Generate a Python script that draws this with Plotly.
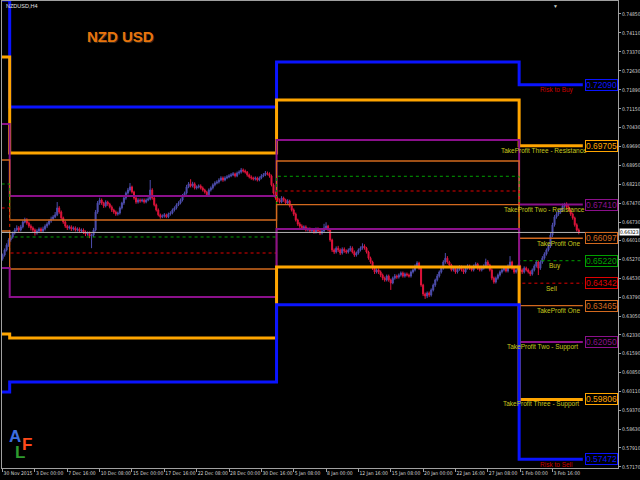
"""
NZDUSD H4 — monthly risk / take-profit levels over price candles
"""
import plotly.graph_objects as go

# H4 candles, 30 Nov 2015 08:00 onwards, prices in pips (x 1e-4)
FIRST_OPEN = 6530
CLOSE = [
    6544, 6564, 6583, 6603, 6614, 6630, 6642, 6650, 6642, 6654,
    6673, 6681, 6669, 6657, 6650, 6642, 6630, 6638, 6646, 6638,
    6646, 6657, 6665, 6677, 6685, 6693, 6701, 6728, 6712, 6689,
    6673, 6657, 6650, 6654, 6646, 6650, 6642, 6646, 6638, 6642,
    6634, 6626, 6630, 6618, 6622, 6642, 6712, 6747, 6759, 6747,
    6736, 6751, 6743, 6732, 6720, 6712, 6704, 6708, 6728, 6747,
    6767, 6786, 6798, 6810, 6790, 6767, 6751, 6759, 6755, 6759,
    6751, 6759, 6763, 6798, 6767, 6740, 6720, 6701, 6693, 6697,
    6701, 6693, 6704, 6708, 6720, 6728, 6740, 6747, 6759, 6775,
    6786, 6810, 6822, 6814, 6822, 6806, 6810, 6814, 6806, 6798,
    6790, 6779, 6798, 6806, 6818, 6825, 6829, 6837, 6845, 6837,
    6845, 6849, 6853, 6857, 6861, 6853, 6864, 6868, 6876, 6872,
    6868, 6857, 6849, 6845, 6841, 6845, 6837, 6845, 6853, 6857,
    6864, 6861, 6853, 6818, 6786, 6767, 6759, 6751, 6767, 6759,
    6747, 6755, 6736, 6720, 6704, 6681, 6665, 6657, 6650, 6654,
    6642, 6646, 6638, 6642, 6634, 6646, 6638, 6630, 6638, 6650,
    6657, 6642, 6603, 6564, 6556, 6571, 6564, 6552, 6567, 6560,
    6556, 6564, 6571, 6556, 6544, 6552, 6564, 6571, 6579, 6571,
    6556, 6532, 6517, 6493, 6478, 6486, 6478, 6466, 6454, 6447,
    6462, 6447, 6435, 6454, 6462, 6458, 6466, 6474, 6462, 6470,
    6466, 6462, 6478, 6486, 6501, 6513, 6493, 6427, 6392, 6384,
    6396, 6388, 6408, 6427, 6447, 6462, 6478, 6493, 6517, 6532,
    6517, 6505, 6486, 6493, 6478, 6489, 6497, 6486, 6478, 6493,
    6501, 6493, 6486, 6501, 6509, 6493, 6486, 6493, 6501, 6517,
    6505, 6486, 6454, 6439, 6454, 6466, 6478, 6486, 6493, 6482,
    6501, 6517, 6493, 6478, 6486, 6501, 6486, 6478, 6493, 6486,
    6478, 6470, 6486, 6501, 6517, 6493, 6517, 6532, 6548, 6564,
    6579, 6622, 6662, 6693, 6704, 6712, 6720, 6736, 6740, 6732,
    6720, 6704, 6689, 6662, 6642, 6632,
]
HIGH = [
    6550, 6570, 6590, 6610, 6622, 6636, 6650, 6660, 6657, 6662,
    6680, 6690, 6688, 6675, 6664, 6656, 6648, 6645, 6652, 6652,
    6655, 6664, 6672, 6684, 6694, 6700, 6712, 6751, 6735, 6718,
    6694, 6678, 6662, 6660, 6660, 6656, 6656, 6652, 6652, 6648,
    6648, 6640, 6636, 6636, 6628, 6650, 6720, 6755, 6768, 6765,
    6752, 6758, 6756, 6748, 6738, 6725, 6718, 6714, 6734, 6752,
    6772, 6792, 6806, 6825, 6815, 6795, 6772, 6766, 6765, 6765,
    6765, 6765, 6770, 6837, 6805, 6772, 6745, 6726, 6706, 6703,
    6708, 6706, 6710, 6715, 6726, 6734, 6746, 6754, 6765, 6782,
    6792, 6818, 6829, 6840, 6830, 6828, 6816, 6820, 6820, 6812,
    6803, 6795, 6804, 6812, 6824, 6832, 6836, 6844, 6852, 6851,
    6852, 6856, 6860, 6864, 6868, 6866, 6870, 6875, 6884, 6882,
    6878, 6872, 6862, 6855, 6850, 6851, 6850, 6851, 6860, 6864,
    6872, 6870, 6867, 6858, 6824, 6792, 6772, 6765, 6774, 6772,
    6764, 6762, 6760, 6742, 6726, 6710, 6686, 6672, 6664, 6660,
    6660, 6652, 6652, 6650, 6648, 6652, 6652, 6644, 6645, 6666,
    6672, 6662, 6648, 6608, 6570, 6578, 6580, 6570, 6574, 6574,
    6566, 6570, 6580, 6578, 6562, 6558, 6570, 6578, 6590, 6586,
    6576, 6561, 6538, 6522, 6498, 6492, 6492, 6484, 6472, 6460,
    6468, 6468, 6452, 6460, 6470, 6468, 6472, 6480, 6480, 6476,
    6476, 6472, 6484, 6492, 6508, 6520, 6518, 6498, 6432, 6398,
    6402, 6402, 6414, 6433, 6452, 6470, 6484, 6500, 6524, 6552,
    6540, 6522, 6510, 6500, 6498, 6495, 6504, 6503, 6492, 6499,
    6508, 6507, 6499, 6507, 6516, 6514, 6499, 6500, 6508, 6530,
    6524, 6510, 6492, 6460, 6460, 6472, 6484, 6492, 6500, 6499,
    6508, 6540, 6522, 6498, 6492, 6508, 6506, 6492, 6500, 6499,
    6492, 6484, 6492, 6508, 6524, 6522, 6524, 6540, 6555, 6570,
    6586, 6630, 6670, 6700, 6712, 6720, 6728, 6745, 6748, 6750,
    6740, 6725, 6710, 6694, 6668, 6648,
]
LOW = [
    6522, 6538, 6558, 6576, 6596, 6608, 6624, 6636, 6634, 6636,
    6648, 6668, 6662, 6650, 6640, 6634, 6620, 6624, 6632, 6630,
    6632, 6640, 6650, 6660, 6670, 6680, 6688, 6696, 6705, 6682,
    6666, 6650, 6642, 6644, 6638, 6640, 6636, 6636, 6630, 6632,
    6626, 6618, 6620, 6610, 6571, 6614, 6636, 6705, 6740, 6740,
    6728, 6730, 6736, 6726, 6712, 6705, 6697, 6698, 6702, 6722,
    6740, 6760, 6780, 6792, 6784, 6760, 6744, 6745, 6748, 6750,
    6745, 6746, 6754, 6758, 6760, 6734, 6714, 6695, 6686, 6688,
    6690, 6688, 6688, 6698, 6703, 6714, 6722, 6735, 6742, 6753,
    6770, 6780, 6805, 6808, 6808, 6800, 6800, 6804, 6800, 6792,
    6784, 6772, 6773, 6792, 6800, 6812, 6820, 6823, 6832, 6830,
    6832, 6840, 6844, 6848, 6852, 6847, 6848, 6858, 6862, 6866,
    6862, 6850, 6843, 6838, 6835, 6835, 6831, 6832, 6840, 6848,
    6852, 6855, 6846, 6812, 6780, 6760, 6752, 6745, 6746, 6752,
    6740, 6740, 6730, 6714, 6697, 6675, 6658, 6650, 6643, 6644,
    6636, 6636, 6630, 6632, 6627, 6628, 6630, 6622, 6624, 6632,
    6645, 6636, 6596, 6556, 6548, 6550, 6556, 6544, 6546, 6553,
    6549, 6550, 6558, 6550, 6537, 6538, 6546, 6558, 6565, 6565,
    6550, 6526, 6510, 6486, 6470, 6472, 6470, 6458, 6446, 6440,
    6441, 6440, 6408, 6430, 6448, 6451, 6452, 6460, 6456, 6456,
    6460, 6456, 6456, 6472, 6480, 6495, 6486, 6420, 6384, 6373,
    6376, 6380, 6382, 6402, 6420, 6441, 6456, 6472, 6487, 6510,
    6510, 6498, 6480, 6480, 6471, 6472, 6483, 6480, 6470, 6472,
    6487, 6486, 6480, 6480, 6495, 6486, 6480, 6480, 6487, 6495,
    6498, 6480, 6446, 6432, 6433, 6448, 6460, 6472, 6480, 6476,
    6476, 6495, 6486, 6471, 6472, 6480, 6480, 6470, 6472, 6480,
    6472, 6462, 6464, 6480, 6495, 6466, 6486, 6510, 6526, 6542,
    6558, 6572, 6615, 6655, 6686, 6697, 6705, 6714, 6730, 6725,
    6714, 6697, 6682, 6655, 6636, 6625,
]
CURRENT_PRICE = 0.66323

# monthly levels: Nov, Dec, Jan, Feb (bar where each month starts)
PERIOD_START = [0, 4, 136, 256]
PERIOD_END = 287
RISK_TO_BUY = [0.75400, 0.71220, 0.72976, 0.72090]
TP3_RESISTANCE = [0.73172, 0.69425, 0.71493, 0.69705]
TP2_RESISTANCE = [0.70557, 0.67746, 0.69932, 0.67410]
TP1_UPPER = [0.69151, 0.66809, 0.69112, 0.66097]
BUY = [0.68215, 0.66146, 0.68515, 0.65220]
SELL = [0.67278, 0.65521, 0.67941, 0.64342]
TP1_LOWER = [0.66380, 0.64897, 0.67406, 0.63465]
TP2_SUPPORT = [0.64936, 0.63804, 0.66458, 0.62050]
TP3_SUPPORT = [0.62360, 0.62204, 0.64975, 0.59806]
RISK_TO_SELL = [0.60096, 0.60486, 0.63503, 0.57472]

# axis labels
PRICE_TICKS = [0.74850, 0.74110, 0.73370, 0.72630, 0.71890, 0.71150, 0.70430,
               0.69690, 0.68950, 0.68210, 0.67470, 0.66730, 0.66010, 0.65270,
               0.64530, 0.63790, 0.63050, 0.62330, 0.61590, 0.60850, 0.60110,
               0.59370, 0.58630, 0.57910, 0.57170]
DATE_TICKS = [0, 16, 32, 48, 64, 80, 96, 112, 128, 144, 160, 176, 192, 208,
              224, 240, 256, 272]
DATE_LABELS = ["30 Nov 2015", "3 Dec 00:00", "7 Dec 16:00", "10 Dec 08:00",
               "15 Dec 00:00", "17 Dec 16:00", "22 Dec 08:00", "28 Dec 00:00",
               "30 Dec 16:00", "5 Jan 08:00", "8 Jan 00:00", "12 Jan 16:00",
               "15 Jan 08:00", "20 Jan 00:00", "22 Jan 16:00", "27 Jan 08:00",
               "1 Feb 00:00", "3 Feb 16:00"]

BLUE = '#0A14FF'
ORANGE = '#FFA500'
PURPLE = '#8B108B'
CHOCO = '#D2691E'
YELLOW = '#C8C81E'
RED_TXT = '#C80000'
FONT = 'Liberation Sans, Arial'
NARROW = 'Liberation Sans Narrow, DejaVu Sans Condensed, Liberation Sans'

# (values, colour, width, dash, caption, caption colour, caption bar)
LEVELS = [
    (RISK_TO_BUY, BLUE, 3, 'solid', "Risk to Buy", RED_TXT, 274),
    (TP3_RESISTANCE, ORANGE, 3, 'solid', "TakeProfit Three - Resistance", YELLOW, 268),
    (TP2_RESISTANCE, PURPLE, 2, 'solid', "TakeProfit Two - Resistance", YELLOW, 268),
    (TP1_UPPER, CHOCO, 1.3, 'solid', "TakeProfit One", YELLOW, 275),
    (BUY, '#00A000', 1, 'dot', "Buy", YELLOW, 273),
    (SELL, '#E00000', 1, 'dot', "Sell", YELLOW, 271.5),
    (TP1_LOWER, CHOCO, 1.3, 'solid', "TakeProfit One", YELLOW, 275),
    (TP2_SUPPORT, PURPLE, 2, 'solid', "TakeProfit Two - Support", YELLOW, 267),
    (TP3_SUPPORT, ORANGE, 3, 'solid', "TakeProfit Three - Support", YELLOW, 266.5),
    (RISK_TO_SELL, BLUE, 3, 'solid', "Risk to Sell", RED_TXT, 274),
]

opens = [FIRST_OPEN] + CLOSE[:-1]
bars = list(range(len(CLOSE)))

fig = go.Figure()

fig.add_trace(go.Candlestick(
    x=bars,
    open=[v / 1e4 for v in opens], high=[v / 1e4 for v in HIGH],
    low=[v / 1e4 for v in LOW], close=[v / 1e4 for v in CLOSE],
    increasing=dict(line=dict(color='#4E4EAE', width=1), fillcolor='#4E4EAE'),
    decreasing=dict(line=dict(color='#E0143C', width=1), fillcolor='#E0143C'),
    whiskerwidth=0, showlegend=False, hoverinfo='skip'
))

fig.add_hline(y=CURRENT_PRICE, line_color='#B4B4B4', line_width=1)

step_x = [s - 0.5 for s in PERIOD_START] + [PERIOD_END]
for vals, color, width, dash, caption, cap_color, cap_bar in LEVELS:
    fig.add_trace(go.Scatter(
        x=step_x, y=vals + [vals[-1]], mode='lines',
        line=dict(color=color, width=width, dash=dash, shape='hv'),
        showlegend=False, hoverinfo='skip'
    ))
    # caption under the line
    fig.add_annotation(x=cap_bar, y=vals[-1], text=caption, showarrow=False,
                       xanchor='center', yanchor='middle', yshift=-5,
                       font=dict(family=FONT, size=6.5, color=cap_color))
    # price box at the end of the line
    fig.add_annotation(x=PERIOD_END + 1.3, y=vals[-1], text=f"{vals[-1]:.5f}",
                       showarrow=False, xanchor='left', yanchor='middle',
                       bgcolor='black', bordercolor=color, borderwidth=1, borderpad=0,
                       font=dict(family=FONT, size=8.5, color=color))

# current price tag on the price axis
fig.add_annotation(x=1.0, xref='paper', y=CURRENT_PRICE, text=f"{CURRENT_PRICE:.5f}",
                   showarrow=False, xanchor='left', yanchor='middle', xshift=1,
                   bgcolor='white', borderpad=0,
                   font=dict(family=NARROW, size=5, color='black'))

# symbol caption, title and logo
fig.add_annotation(x=0.003, y=0.989, xref='paper', yref='paper', text="NZDUSD,H4",
                   showarrow=False, xanchor='left', yanchor='middle',
                   font=dict(family=FONT, size=5.5, color='#E0E0E0'))
for dx, dy, col in [(1, -1, '#3A2A18'), (0, 0, '#E8740C')]:
    fig.add_annotation(x=0.193, y=0.923, xref='paper', yref='paper', text="<b>NZD USD</b>",
                       showarrow=False, xanchor='center', yanchor='middle',
                       xshift=dx, yshift=dy,
                       font=dict(family=FONT, size=15, color=col))
for letter, lx, ly, col in [("A", 0.0203, 0.0675, '#3C6EE0'),
                            ("F", 0.0406, 0.0503, '#FF4A1A'),
                            ("L", 0.0292, 0.0332, '#2E9A2E')]:
    fig.add_annotation(x=lx, y=ly, xref='paper', yref='paper', text=f"<b>{letter}</b>",
                       showarrow=False, xanchor='center', yanchor='middle',
                       font=dict(family=FONT, size=17, color=col))
fig.add_annotation(x=0.899, y=1.0, xref='paper', yref='paper', text="▼", showarrow=False,
                   xanchor='center', yanchor='top', font=dict(size=5, color='#C8C8C8'))

fig.update_layout(
    width=640, height=480,
    paper_bgcolor='black', plot_bgcolor='black',
    margin=dict(l=2, r=22, t=1, b=12, autoexpand=False),
    showlegend=False,
    xaxis=dict(
        range=[-0.3, 304.4], rangeslider=dict(visible=False), automargin=False,
        tickvals=DATE_TICKS, ticktext=DATE_LABELS, ticklabelposition='outside right',
        tickangle=0, ticks='outside', ticklen=3, tickcolor='#A0A0A0',
        tickfont=dict(family=NARROW, size=5, color='#D8D8D8'),
        showgrid=False, zeroline=False, showline=True, linecolor='#A0A0A0', mirror=True
    ),
    yaxis=dict(
        range=[0.57129, 0.75357], side='right', automargin=False,
        tickvals=PRICE_TICKS, ticktext=[f"{v:.5f}" for v in PRICE_TICKS],
        ticks='outside', ticklen=2, tickcolor='#A0A0A0',
        tickfont=dict(family=NARROW, size=5, color='#D8D8D8'),
        showgrid=False, zeroline=False, showline=True, linecolor='#A0A0A0', mirror=True
    ),
)

# page body has a default 8px margin; drop it so the 640x480 figure fills the window
fig.write_html("out.html", config={'displayModeBar': False},
               post_script="document.body.style.margin='0';document.body.style.background='black';")
